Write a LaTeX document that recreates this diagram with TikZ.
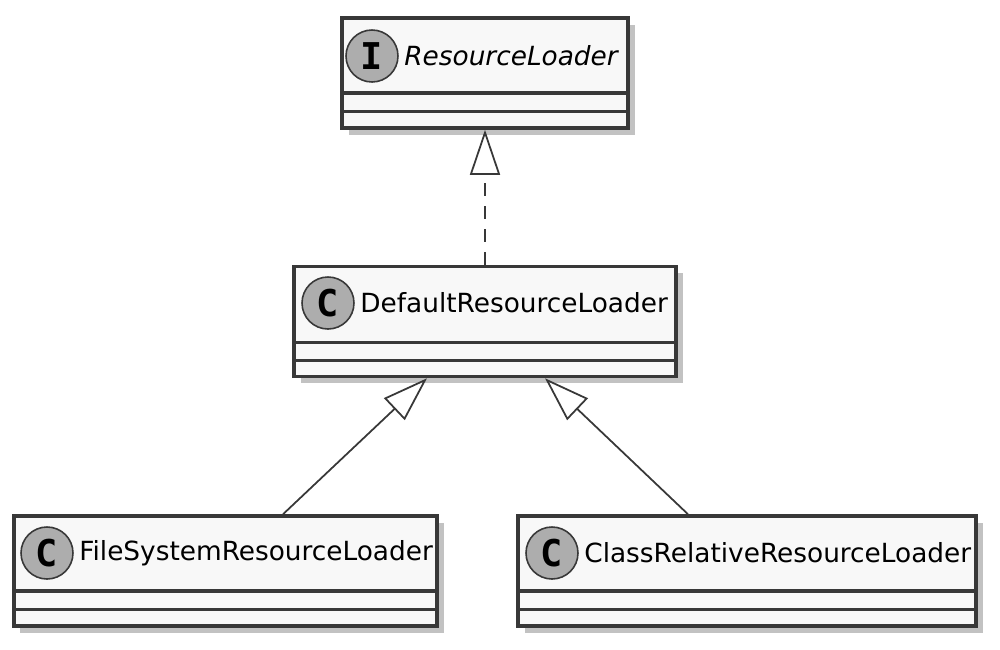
\documentclass[tikz,border=0pt]{standalone}
\usepackage{fontspec}
\setmainfont{DejaVu Sans}
\newfontfamily\spotfont{DejaVu Sans Mono}
\usetikzlibrary{arrows.meta,shadows}
\definecolor{umlfill}{HTML}{F8F8F8}
\definecolor{umlline}{HTML}{383838}
\definecolor{spotfill}{HTML}{ADADAD}
\begin{document}
\begin{tikzpicture}[
		classbox/.style={draw=umlline,line width=2pt,fill=umlfill,minimum height=2.2cm,
			drop shadow={shadow xshift=0.13cm,shadow yshift=-0.13cm,fill=black!40,opacity=0.6}},
		sep/.style={draw=umlline,line width=2pt},
		spot/.style={circle,draw=umlline,line width=0.9pt,fill=spotfill,minimum size=1.04cm,inner sep=0pt,
			font=\spotfont\bfseries\fontsize{21}{21}\selectfont},
		classname/.style={anchor=west,inner sep=0pt,font=\fontsize{15}{17}\selectfont},
		rel/.style={draw=umlline,line width=1pt,-{Triangle[open,length=0.9cm,width=0.6cm,fill=white]}}
	]
	\useasboundingbox (0,0) rectangle (20,-12.98);

	% ResourceLoader
	\node[classbox,minimum width=5.72cm] (rl) at (9.7,-1.46) {};
	\draw[sep] ([yshift=0.74cm]rl.south west) -- ([yshift=0.74cm]rl.south east);
	\draw[sep] ([yshift=0.37cm]rl.south west) -- ([yshift=0.37cm]rl.south east);
	\node[spot] (rlspot) at (7.44,-1.12) {I};
	\node[classname,font=\fontsize{15}{17}\selectfont\itshape] (rlname) at (8.08,-1.12) {ResourceLoader};

	% DefaultResourceLoader
	\node[classbox,minimum width=7.64cm] (drl) at (9.7,-6.43) {};
	\draw[sep] ([yshift=0.72cm]drl.south west) -- ([yshift=0.72cm]drl.south east);
	\draw[sep] ([yshift=0.36cm]drl.south west) -- ([yshift=0.36cm]drl.south east);
	\node[spot] (drlspot) at (6.56,-6.06) {C};
	\node[classname] (drlname) at (7.2,-6.06) {DefaultResourceLoader};

	% FileSystemResourceLoader
	\node[classbox,minimum width=8.46cm] (fsrl) at (4.51,-11.42) {};
	\draw[sep] ([yshift=0.74cm]fsrl.south west) -- ([yshift=0.74cm]fsrl.south east);
	\draw[sep] ([yshift=0.37cm]fsrl.south west) -- ([yshift=0.37cm]fsrl.south east);
	\node[spot] (fsrlspot) at (0.94,-11.06) {C};
	\node[classname] (fsrlname) at (1.58,-11.06) {FileSystemResourceLoader};

	% ClassRelativeResourceLoader
	\node[classbox,minimum width=9.16cm] (crrl) at (14.94,-11.42) {};
	\draw[sep] ([yshift=0.74cm]crrl.south west) -- ([yshift=0.74cm]crrl.south east);
	\draw[sep] ([yshift=0.37cm]crrl.south west) -- ([yshift=0.37cm]crrl.south east);
	\node[spot] (crrlspot) at (11.04,-11.06) {C};
	\node[classname] (crrlname) at (11.68,-11.06) {ClassRelativeResourceLoader};

	% relations
	\draw[rel,dash pattern=on 0.26cm off 0.2cm] (drl.north) -- (rl.south);
	\draw[rel] ([xshift=1.15cm]fsrl.north) -- ([xshift=-1.16cm]drl.south);
	\draw[rel] ([xshift=-1.18cm]crrl.north) -- ([xshift=1.2cm]drl.south);
\end{tikzpicture}
\end{document}
